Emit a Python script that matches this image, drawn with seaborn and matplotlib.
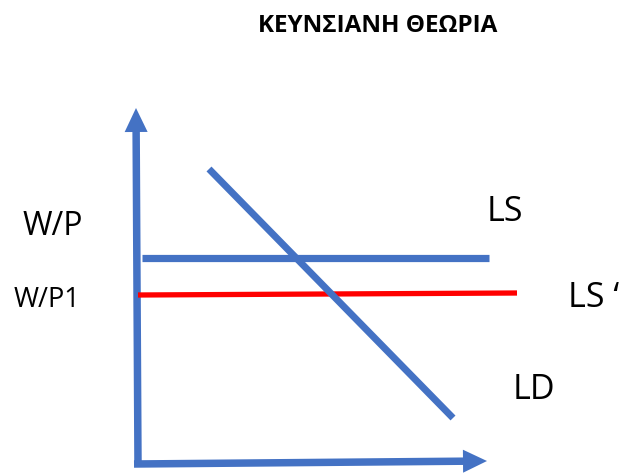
import matplotlib
matplotlib.use("Agg")
import matplotlib.pyplot as plt
import seaborn as sns
import pandas as pd

# ---- data (diagram in pixel space of the 633x473 canvas, y downward) ----
title = "ΚΕΥΝΣΙΑΝΗ ΘΕΩΡΙΑ"
ls_x = [142, 489]
ls_y = [258, 258]
ls1_x = [138, 517]
ls1_y = [295, 293]
ld_x = [209, 453]
ld_y = [169, 418]
yaxis_x = [138, 136]
yaxis_y = [465, 108]
xaxis_x = [134, 487]
xaxis_y = [464, 461]
labels = ["W/P", "W/P1", "LS", "LS \u2018", "LD"]
label_x = [23, 14, 487, 568, 513]
label_y = [235, 307, 221, 307, 399]
label_size = [23, 19.5, 24.5, 24.5, 24.5]

BLUE = "#4472C4"
RED = "#FF0000"

sns.set_theme(style="white")
plt.rcParams['font.family'] = ['Open Sans', 'DejaVu Sans']

fig = plt.figure(figsize=(6.33, 4.73), dpi=100)
ax = fig.add_axes([0, 0, 1, 1])
ax.set_xlim(0, 633)
ax.set_ylim(473, 0)
ax.axis("off")

df_ls = pd.DataFrame({"x": ls_x, "y": ls_y})
df_ls1 = pd.DataFrame({"x": ls1_x, "y": ls1_y})
df_ld = pd.DataFrame({"x": ld_x, "y": ld_y})
sns.lineplot(data=df_ls, x="x", y="y", ax=ax, color=BLUE, linewidth=5.2,
             sort=False, solid_capstyle="butt")
sns.lineplot(data=df_ls1, x="x", y="y", ax=ax, color=RED, linewidth=3.8,
             sort=False, solid_capstyle="butt")
sns.lineplot(data=df_ld, x="x", y="y", ax=ax, color=BLUE, linewidth=5.0,
             sort=False, solid_capstyle="butt")

# axes arrows
for xs, ys in [(yaxis_x, yaxis_y), (xaxis_x, xaxis_y)]:
    ax.arrow(xs[0], ys[0], xs[1] - xs[0], ys[1] - ys[0], width=7.5,
             head_width=23, head_length=24, length_includes_head=True,
             color=BLUE, linewidth=0)

ax.text(258, 32, title, fontsize=17.5, fontweight="bold", ha="left",
        va="baseline", color="black")
for t, x, y, s in zip(labels, label_x, label_y, label_size):
    ax.text(x, y, t, fontsize=s, ha="left", va="baseline", color="black")

fig.savefig("out.png", dpi=100)
